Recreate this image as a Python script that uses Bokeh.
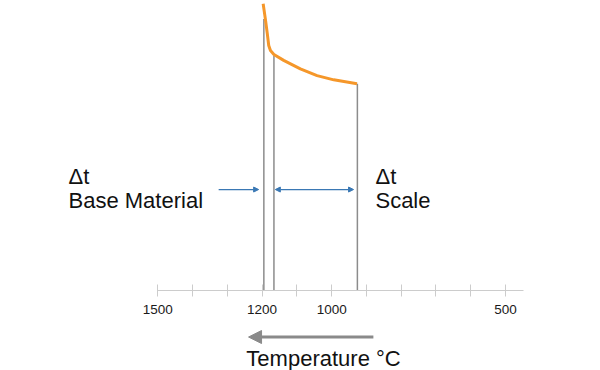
from bokeh.plotting import figure
from bokeh.models import Range1d, FixedTicker, Arrow, NormalHead, Label
from bokeh.embed import file_html
from bokeh.resources import INLINE

# ---- data ----
curve_temp = [1197, 1190, 1185, 1181, 1176, 1166, 1138, 1090, 1042, 994, 927]
curve_value = [101.7, 95.7, 91.0, 86.9, 85.1, 83.7, 81.6, 78.6, 76.2, 74.7, 73.3]
boundary_temp = [1195, 1166, 926]
boundary_value = [96.3, 83.3, 73.3]
tick_values = [1500, 1400, 1300, 1200, 1100, 1000, 900, 800, 700, 600, 500]
tick_labels = {1500: "1500", 1200: "1200", 1000: "1000", 500: "500"}
base_arrow = [1325, 1210]
scale_arrow = [1162, 937]
temp_arrow = [880, 1239]

FONT = "Liberation Sans"

p = figure(width=600, height=370, output_backend="svg", toolbar_location=None,
           x_range=Range1d(1952.4, 226.8), y_range=Range1d(-28.37, 102.84),
           y_axis_location=None, min_border_left=0, min_border_right=0,
           min_border_top=0, min_border_bottom=0)
p.outline_line_color = None
p.grid.visible = False
p.background_fill_color = "white"
p.border_fill_color = "white"

ax = p.xaxis[0]
ax.fixed_location = 0
ax.ticker = FixedTicker(ticks=tick_values)
ax.major_label_overrides = {t: tick_labels.get(t, "") for t in tick_values}
ax.bounds = (448, 1500)
ax.axis_line_color = "#cccccc"
ax.major_tick_line_color = "#cccccc"
ax.minor_tick_line_color = None
ax.major_tick_in = 6
ax.major_tick_out = 6
ax.major_label_standoff = 9
ax.major_label_text_font = FONT
ax.major_label_text_font_size = "13.5px"
ax.major_label_text_color = "#1a1a1a"

# boundary lines
p.segment(x0=boundary_temp, y0=[0] * len(boundary_temp), x1=boundary_temp, y1=boundary_value,
          line_color="#8c8c8c", line_width=1.5)

# curve
p.line(curve_temp, curve_value, line_color="#f5972a", line_width=3)

# blue arrows
blue = "#3a78b4"
p.add_layout(Arrow(end=NormalHead(size=5, fill_color=blue, line_color=blue),
                   x_start=base_arrow[0], x_end=base_arrow[1], y_start=35.8, y_end=35.8,
                   line_color=blue, line_width=1.3))
p.add_layout(Arrow(start=NormalHead(size=5, fill_color=blue, line_color=blue),
                   end=NormalHead(size=5, fill_color=blue, line_color=blue),
                   x_start=scale_arrow[0], x_end=scale_arrow[1], y_start=35.8, y_end=35.8,
                   line_color=blue, line_width=1.3))

# labels
for txt, xx, yy in [("Δt", 1756.8, 40.6), ("Base Material", 1756.8, 31.8),
                    ("Δt", 874, 40.6), ("Scale", 874, 31.8)]:
    p.add_layout(Label(x=xx, y=yy, text=txt, text_font=FONT, text_font_size="22px",
                       text_color="#111111", text_baseline="alphabetic", text_align="left"))

# temperature arrow + label
gray = "#8a8a8a"
p.add_layout(Arrow(end=NormalHead(size=13, fill_color=gray, line_color=gray),
                   x_start=temp_arrow[0], x_end=temp_arrow[1], y_start=-16.5, y_end=-16.5,
                   line_color=gray, line_width=3))
p.add_layout(Label(x=1023.4, y=-24.0, text="Temperature °C", text_font=FONT,
                   text_font_size="22px", text_color="#111111",
                   text_baseline="alphabetic", text_align="center"))

open("out.html", "w").write(file_html(p, INLINE))
